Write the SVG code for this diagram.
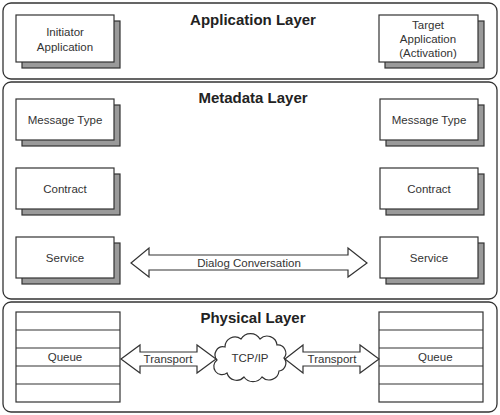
<svg xmlns="http://www.w3.org/2000/svg" width="500" height="415" viewBox="0 0 500 415">
<style>
.layer{fill:#fff;stroke:#333;stroke-width:1.3}
.box{fill:#fff;stroke:#333;stroke-width:1.2}
.shadow{fill:#9a9a9a;stroke:#333;stroke-width:1.2}
.t{font-family:"Liberation Sans",Arial,sans-serif;font-size:11.5px;fill:#333;text-anchor:middle;dominant-baseline:central}
.h{font-family:"Liberation Sans",Arial,sans-serif;font-size:15px;font-weight:bold;fill:#222;text-anchor:middle;dominant-baseline:central}
.arrow{fill:#fff;stroke:#333;stroke-width:1.2;stroke-linejoin:miter}
.row{stroke:#333;stroke-width:1.2}
</style>
<rect width="500" height="415" fill="#fff"/>
<g id="layers">
<g id="application-layer">
<rect class="layer" x="3" y="3" width="494" height="76" rx="8"/>
<text class="h" x="253" y="19">Application Layer</text>
</g>
<g id="metadata-layer">
<rect class="layer" x="3" y="82" width="494" height="217" rx="8"/>
<text class="h" x="253" y="97">Metadata Layer</text>
</g>
<g id="physical-layer">
<rect class="layer" x="3" y="302" width="494" height="110" rx="8"/>
<text class="h" x="253" y="317">Physical Layer</text>
</g>
</g>
<g id="initiator-application">
<rect class="shadow" x="22" y="21" width="98" height="47"/>
<rect class="box" x="16" y="15" width="98" height="47"/>
<text class="t" x="65" y="32">Initiator</text>
<text class="t" x="65" y="47">Application</text>
</g>
<g id="target-application">
<rect class="shadow" x="385" y="21" width="99" height="47"/>
<rect class="box" x="379" y="15" width="99" height="47"/>
<text class="t" x="428" y="25">Target</text>
<text class="t" x="428" y="39">Application</text>
<text class="t" x="428" y="53">(Activation)</text>
</g>
<g id="message-type-left">
<rect class="shadow" x="22" y="105" width="98" height="41"/>
<rect class="box" x="16" y="99" width="98" height="41"/>
<text class="t" x="65" y="119.5">Message Type</text>
</g>
<g id="contract-left">
<rect class="shadow" x="22" y="174" width="98" height="41"/>
<rect class="box" x="16" y="168" width="98" height="41"/>
<text class="t" x="65" y="188.5">Contract</text>
</g>
<g id="service-left">
<rect class="shadow" x="22" y="243" width="98" height="41"/>
<rect class="box" x="16" y="237" width="98" height="41"/>
<text class="t" x="65" y="257.5">Service</text>
</g>
<g id="message-type-right">
<rect class="shadow" x="386" y="105" width="98" height="41"/>
<rect class="box" x="380" y="99" width="98" height="41"/>
<text class="t" x="429" y="119.5">Message Type</text>
</g>
<g id="contract-right">
<rect class="shadow" x="386" y="174" width="98" height="41"/>
<rect class="box" x="380" y="168" width="98" height="41"/>
<text class="t" x="429" y="188.5">Contract</text>
</g>
<g id="service-right">
<rect class="shadow" x="386" y="243" width="98" height="41"/>
<rect class="box" x="380" y="237" width="98" height="41"/>
<text class="t" x="429" y="257.5">Service</text>
</g>
<g id="queue-left">
<rect class="box" x="16" y="312" width="104" height="90"/>
<path class="row" d="M16 330H120M16 348H120M16 366H120M16 384H120"/>
<text class="t" x="65" y="357">Queue</text>
</g>
<g id="queue-right">
<rect class="box" x="379" y="312" width="104" height="90"/>
<path class="row" d="M379 330H483M379 348H483M379 366H483M379 384H483"/>
<text class="t" x="418" y="357" style="text-anchor:start">Queue</text>
</g>
<g id="tcp-ip">
<path class="box" d="M217,360 a8,8 0 0 1 8,-13 a10,10 0 0 1 16,-8 a11,11 0 0 1 19,0 a10,10 0 0 1 17,6 a8,8 0 0 1 7,13 a8,8 0 0 1 -5,13 a10,10 0 0 1 -17,6 a11,11 0 0 1 -18,0 a10,10 0 0 1 -17,-4 a8,8 0 0 1 -10,-13 z"/>
<text class="t" x="250" y="358">TCP/IP</text>
</g>
<g id="connectors">
<g id="dialog-conversation">
<path class="arrow" d="M131,263 L149,248 L149,255 L348,255 L348,248 L367,263 L348,277 L348,270 L149,270 L149,277 Z"/>
<text class="t" x="249" y="263">Dialog Conversation</text>
</g>
<g id="transport-left">
<path class="arrow" d="M121,359 L140,345 L140,352 L197,352 L197,345 L216,359 L197,373 L197,366 L140,366 L140,373 Z"/>
<text class="t" x="168" y="359">Transport</text>
</g>
<g id="transport-right">
<path class="arrow" d="M285,359 L303,345 L303,352 L360,352 L360,345 L379,359 L360,373 L360,366 L303,366 L303,373 Z"/>
<text class="t" x="332" y="359">Transport</text>
</g>
</g>
</svg>
